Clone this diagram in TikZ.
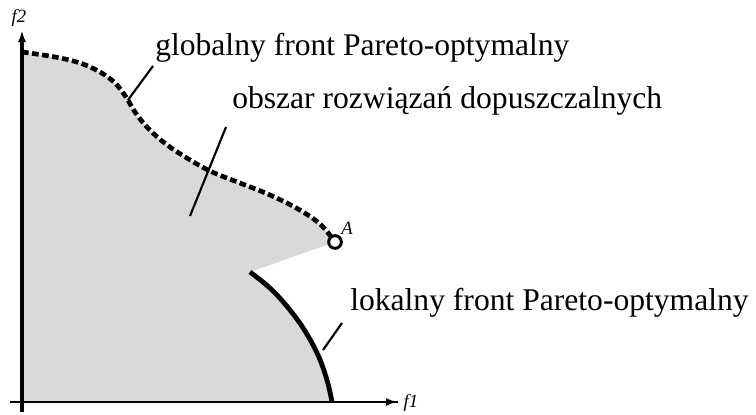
\documentclass[tikz,border=0pt]{standalone}
\usepackage{fontspec}
\setmainfont{Liberation Serif}
\usetikzlibrary{arrows.meta}

\tikzset{
    lbl/.style={font=\fontsize{23.7}{28}\selectfont, anchor=base west, inner sep=0pt},
    axlbl/.style={font=\fontsize{14}{16}\selectfont\itshape, inner sep=0pt},
    leader/.style={line width=1.6pt},
    axis/.style={line width=2.4pt, -{Latex[length=9pt,width=6pt]}}
}

\begin{document}
\begin{tikzpicture}[x=0.75pt, y=-0.75pt]
\useasboundingbox (0,0) rectangle (756,414);

% Feasible region
\fill[black!15] plot[smooth, tension=0.6] coordinates {(22,52) (55,57) (80,63) (100,72) (115,83) (126,97) (135,112) (146,126) (162,141) (182,155) (210,171) (240,183) (270,195) (298,209) (320,224) (335,242)}
    -- plot[smooth, tension=0.6] coordinates {(250,272) (271,289) (290,310) (305,331) (318,355) (327,380) (332,402)}
    -- (22,402) -- cycle;

% Axes
\draw[line width=2pt] (10,402) -- (398,402);
\draw[axis, line width=1.8pt] (300,402) -- (398,402);
\draw[axis, line width=3pt] (22,412) -- (22,30);
\node[axlbl] (f2) at (19,18) {f2};
\node[axlbl] (f1) at (411,403) {f1};

% Global Pareto front
\draw[line width=3.5pt, dash pattern=on 5pt off 2.6pt] plot[smooth, tension=0.6] coordinates {(22,52) (55,57) (80,63) (100,72) (115,83) (126,97) (135,112) (146,126) (162,141) (182,155) (210,171) (240,183) (270,195) (298,209) (320,224) (335,242)};

% Local Pareto front
\draw[line width=3.6pt] plot[smooth, tension=0.6] coordinates {(250,272) (271,289) (290,310) (305,331) (318,355) (327,380) (332,402)};

% Point A
\node[circle, draw, fill=white, line width=2.2pt, minimum size=9.5pt, inner sep=0pt] (A) at (335,242) {};
\node[axlbl] (Alab) at (347,228) {A};

% Labels
\node[lbl] (glob) at (155,55) {globalny front Pareto-optymalny};
\node[lbl] (obsz) at (232,108) {obszar rozwiązań dopuszczalnych};
\node[lbl] (lok) at (350,310) {lokalny front Pareto-optymalny};

% Leaders
\coordinate (g1) at (128,100);
\coordinate (g2) at (153,66);
\coordinate (o1) at (190,216);
\coordinate (o2) at (226,127);
\coordinate (l1) at (323,350);
\coordinate (l2) at (342,323);
\draw[leader] (g1) -- (g2);
\draw[leader] (o1) -- (o2);
\draw[leader] (l1) -- (l2);

\end{tikzpicture}
\end{document}
